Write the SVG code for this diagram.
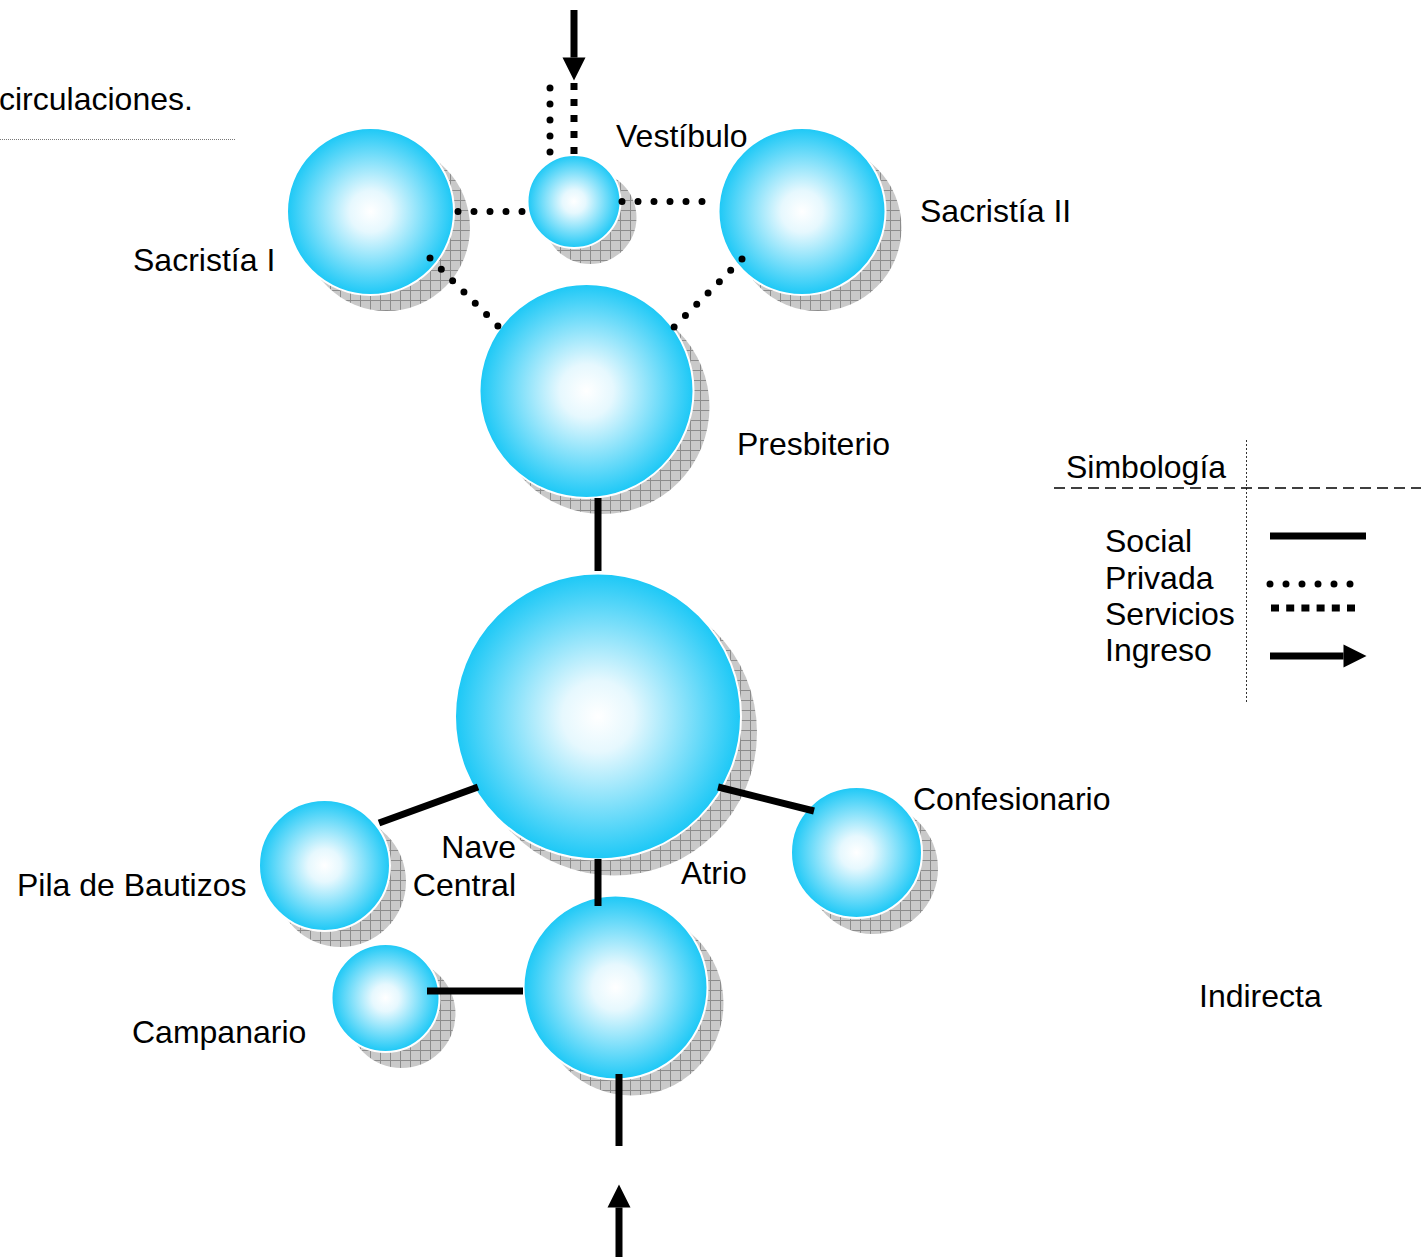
<svg xmlns="http://www.w3.org/2000/svg" width="1421" height="1257" viewBox="0 0 1421 1257">
<defs>
<radialGradient id="ball" cx="0.5" cy="0.5" r="0.5">
<stop offset="0" stop-color="#ffffff"/>
<stop offset="0.25" stop-color="#e6f8fe"/>
<stop offset="1" stop-color="#1cc8f6"/>
</radialGradient>
<pattern id="hatch" width="10" height="10" patternUnits="userSpaceOnUse">
<rect width="10" height="10" fill="#c9c9c9"/>
<path d="M0 0.5H10M0.5 0V10" stroke="#8c8c8c" stroke-width="1"/>
</pattern>
<marker id="arrow" markerUnits="userSpaceOnUse" markerWidth="24" markerHeight="24" refX="0" refY="12" orient="auto" overflow="visible">
<path d="M0 0.5L23 12L0 23.5Z" fill="#000"/>
</marker>
<style>
.lbl{font-family:"Liberation Sans",Arial,sans-serif;font-size:32px;fill:#000}
.shadow{fill:url(#hatch)}
.ball{fill:url(#ball);stroke:#fff;stroke-width:2}
.social{stroke:#000;stroke-width:7;fill:none}
.priv{stroke:#000;stroke-width:7;stroke-linecap:round;stroke-dasharray:0 16;fill:none}
.serv{stroke:#000;stroke-width:7;stroke-dasharray:7 9;fill:none}
.ingreso{stroke:#000;stroke-width:7;fill:none}
</style>
</defs>
<rect width="1421" height="1257" fill="#fff"/>

<text class="lbl" x="-1" y="110">circulaciones.</text>
<line x1="0" y1="139.5" x2="235" y2="139.5" stroke="#777" stroke-width="1" stroke-dasharray="1 1"/>

<g id="sacristia-1">
<circle class="shadow" cx="386.5" cy="227.5" r="83.5"/>
<circle class="ball" cx="370.5" cy="211.5" r="83.5"/>
<text class="lbl" x="133" y="271">Sacristía I</text>
</g>
<g id="vestibulo">
<circle class="shadow" cx="590" cy="217.5" r="46.5"/>
<circle class="ball" cx="574" cy="201.5" r="46.5"/>
<text class="lbl" x="616" y="147">Vestíbulo</text>
</g>
<g id="sacristia-2">
<circle class="shadow" cx="818" cy="227.5" r="83.5"/>
<circle class="ball" cx="802" cy="211.5" r="83.5"/>
<text class="lbl" x="920" y="222">Sacristía II</text>
</g>
<g id="presbiterio">
<circle class="shadow" cx="602.5" cy="407" r="107"/>
<circle class="ball" cx="586.5" cy="391" r="107"/>
<text class="lbl" x="737" y="455">Presbiterio</text>
</g>
<g id="nave-central">
<circle class="shadow" cx="614" cy="732.5" r="143"/>
<circle class="ball" cx="598" cy="716.5" r="143"/>
<text class="lbl" x="516" y="858" text-anchor="end">Nave</text>
<text class="lbl" x="516" y="896" text-anchor="end">Central</text>
</g>
<g id="pila-bautizos">
<circle class="shadow" cx="340.5" cy="881.5" r="65.5"/>
<circle class="ball" cx="324.5" cy="865.5" r="65.5"/>
<text class="lbl" x="17" y="896">Pila de Bautizos</text>
</g>
<g id="confesionario">
<circle class="shadow" cx="872.5" cy="868.5" r="65.5"/>
<circle class="ball" cx="856.5" cy="852.5" r="65.5"/>
<text class="lbl" x="913" y="810">Confesionario</text>
</g>
<g id="atrio">
<circle class="shadow" cx="631.5" cy="1003.5" r="92"/>
<circle class="ball" cx="615.5" cy="987.5" r="92"/>
<text class="lbl" x="681" y="884">Atrio</text>
</g>
<g id="campanario">
<circle class="shadow" cx="401.5" cy="1014" r="54"/>
<circle class="ball" cx="385.5" cy="998" r="54"/>
<text class="lbl" x="132" y="1043">Campanario</text>
</g>
<g id="indirecta">
<text class="lbl" x="1199" y="1007">Indirecta</text>
</g>

<g id="connectors">
<line class="priv" x1="458" y1="211.5" x2="523" y2="211.5"/>
<line class="priv" x1="622" y1="201.5" x2="703" y2="201.5"/>
<line class="priv" x1="550" y1="88" x2="550" y2="153"/>
<line class="serv" x1="574" y1="83" x2="574" y2="155"/>
<line class="ingreso" x1="574" y1="10" x2="574" y2="57.5" marker-end="url(#arrow)"/>
<line class="priv" x1="430" y1="258" x2="499.7" y2="327.7"/>
<line class="priv" x1="742" y1="259" x2="673.3" y2="327.7"/>
<line class="social" x1="598" y1="498" x2="598" y2="571"/>
<line class="social" x1="478" y1="787" x2="379" y2="823"/>
<line class="social" x1="718" y1="787" x2="814" y2="811"/>
<line class="social" x1="598" y1="859" x2="598" y2="906"/>
<line class="social" x1="427" y1="991" x2="523" y2="991"/>
<line class="social" x1="619" y1="1074" x2="619" y2="1146"/>
<line class="ingreso" x1="619" y1="1257" x2="619" y2="1207.5" marker-end="url(#arrow)"/>
</g>

<g id="legend">
<line x1="1246.5" y1="440" x2="1246.5" y2="704" stroke="#333" stroke-width="1" stroke-dasharray="2 2"/>
<line x1="1054" y1="488" x2="1421" y2="488" stroke="#000" stroke-width="1.5" stroke-dasharray="11 6"/>
<text class="lbl" x="1066" y="478">Simbología</text>
<text class="lbl" x="1105" y="552">Social</text>
<text class="lbl" x="1105" y="589">Privada</text>
<text class="lbl" x="1105" y="625">Servicios</text>
<text class="lbl" x="1105" y="661">Ingreso</text>
<line class="social" x1="1270" y1="536" x2="1366" y2="536"/>
<line class="priv" x1="1270" y1="584" x2="1351" y2="584"/>
<line class="serv" x1="1271" y1="608" x2="1356" y2="608" style="stroke-dasharray:8 7.2"/>
<line class="ingreso" x1="1270" y1="656" x2="1343.5" y2="656" marker-end="url(#arrow)"/>
</g>
</svg>
